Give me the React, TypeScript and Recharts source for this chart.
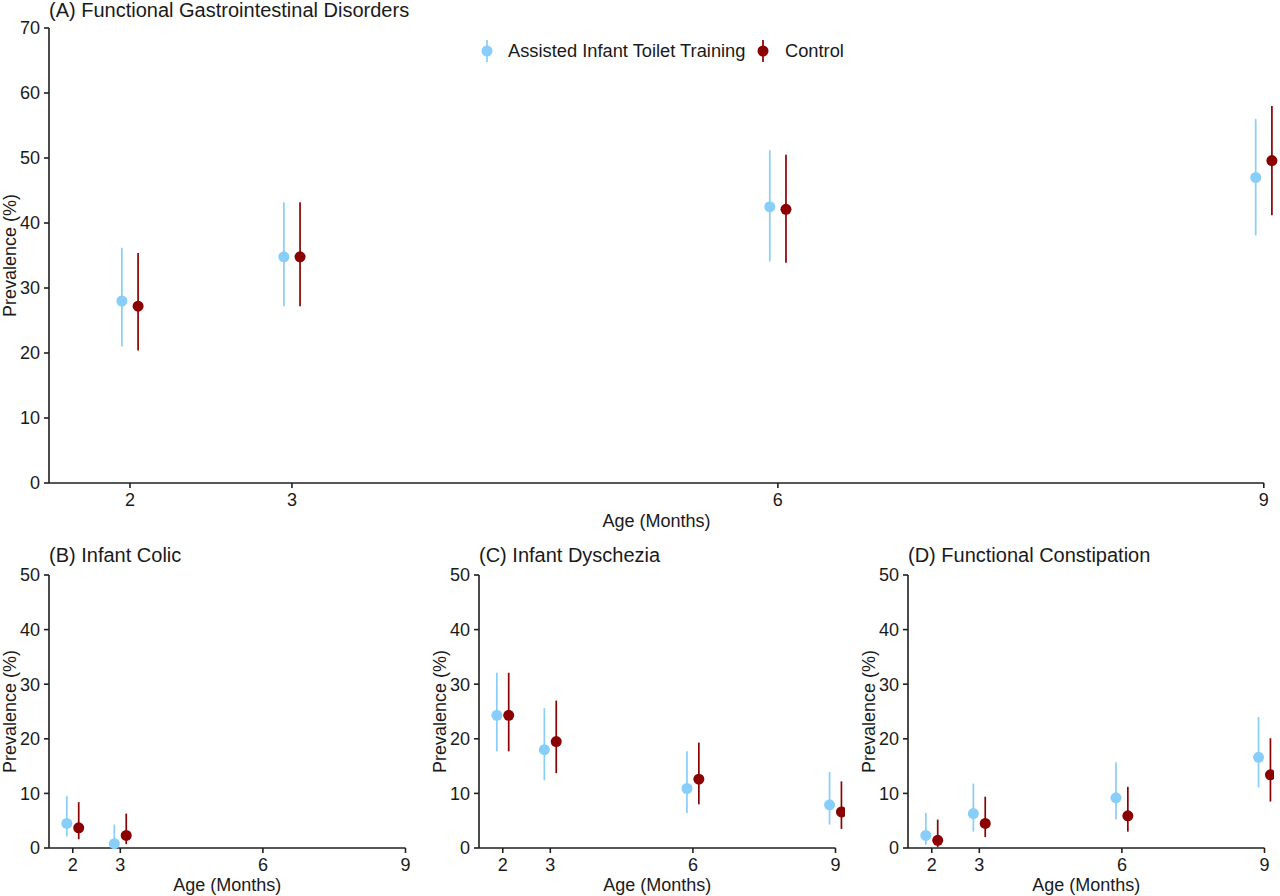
import React from 'react';
import { ScatterChart, Scatter, XAxis, YAxis, ErrorBar, ReferenceLine } from 'recharts';

// ---------- data ----------
const MONTHS = [2, 3, 6, 9];
const COLIC_MONTHS = [2, 3];
const X_TICKS = [2, 3, 6, 9];
const Y_TICKS_TOP = [0, 10, 20, 30, 40, 50, 60, 70];
const Y_TICKS_BOTTOM = [0, 10, 20, 30, 40, 50];

const SERIES_NAMES = ['Assisted Infant Toilet Training', 'Control'];

// (A) Functional Gastrointestinal Disorders
const fgidAitt = [28.0, 34.8, 42.5, 47.0];
const fgidAittLo = [21.0, 27.2, 34.1, 38.1];
const fgidAittHi = [36.2, 43.2, 51.2, 56.0];
const fgidCtrl = [27.2, 34.8, 42.1, 49.6];
const fgidCtrlLo = [20.4, 27.2, 33.9, 41.2];
const fgidCtrlHi = [35.4, 43.2, 50.5, 58.0];

// (B) Infant Colic
const colicAitt = [4.5, 0.8];
const colicAittLo = [2.1, 0.1];
const colicAittHi = [9.5, 4.3];
const colicCtrl = [3.7, 2.3];
const colicCtrlLo = [1.6, 0.7];
const colicCtrlHi = [8.4, 6.3];

// (C) Infant Dyschezia
const dysAitt = [24.3, 18.0, 10.9, 7.9];
const dysAittLo = [17.7, 12.4, 6.4, 4.3];
const dysAittHi = [32.1, 25.6, 17.7, 13.9];
const dysCtrl = [24.3, 19.5, 12.6, 6.6];
const dysCtrlLo = [17.7, 13.7, 8.0, 3.5];
const dysCtrlHi = [32.1, 27.0, 19.3, 12.2];

// (D) Functional Constipation
const fcAitt = [2.3, 6.3, 9.2, 16.6];
const fcAittLo = [0.6, 3.0, 5.2, 11.1];
const fcAittHi = [6.4, 11.8, 15.7, 24.0];
const fcCtrl = [1.4, 4.5, 5.9, 13.4];
const fcCtrlLo = [0.2, 2.0, 3.0, 8.5];
const fcCtrlHi = [5.2, 9.4, 11.2, 20.1];

// ---------- style ----------
const BLUE = '#87CEFA';
const RED = '#8B0000';
const AXIS = '#1f1f1f';
const TEXT = '#1a1a1a';
const FONT = '"Liberation Sans", Arial, Helvetica, sans-serif';

type Pt = { x: number; y: number; err: [number, number] };

function build(months: number[], est: number[], lo: number[], hi: number[], shift: number): Pt[] {
  return months.map((m, i) => ({
    x: m + shift,
    y: est[i],
    err: [est[i] - lo[i], hi[i] - est[i]] as [number, number],
  }));
}

const dot = (color: string) => (p: any) =>
  p.cx == null || p.cy == null ? <g /> : <circle cx={p.cx} cy={p.cy} r={5.5} fill={color} />;

const X_START = 1.5;
const X_LAST = 9;

function yTitle(props: any) {
  const vb = props.viewBox || {};
  const cx = (vb.x || 0) + 10;
  const cy = (vb.y || 0) + (vb.height || 0) / 2;
  return (
    <text
      x={cx}
      y={cy}
      transform={`rotate(-90 ${cx} ${cy})`}
      textAnchor="middle"
      dominantBaseline="central"
      fontSize={18}
      fontFamily={FONT}
      fill={TEXT}
    >
      Prevalence (%)
    </text>
  );
}

const xTitle = (xEnd: number, baselineOffset: number) => (props: any) => {
  const vb = props.viewBox || {};
  const frac = (X_LAST - X_START) / (xEnd - X_START);
  const cx = (vb.x || 0) + ((vb.width || 0) * frac) / 2;
  const y = (vb.y || 0) + baselineOffset;
  return (
    <text x={cx} y={y} textAnchor="middle" fontSize={18} fontFamily={FONT} fill={TEXT}>
      Age (Months)
    </text>
  );
};

type PanelProps = {
  left: number;
  top: number;
  width: number;
  height: number;
  marginTop: number;
  xAxisHeight: number;
  xEnd: number;
  yMax: number;
  yTicks: number[];
  aitt: Pt[];
  ctrl: Pt[];
  xLabelBaseline: number;
};

function Panel(p: PanelProps) {
  const tickStyle = { fontSize: 18, fontFamily: FONT, fill: TEXT };
  return (
    <div style={{ position: 'absolute', left: p.left, top: p.top }}>
      <ScatterChart
        width={p.width}
        height={p.height}
        margin={{ top: p.marginTop, right: 0, bottom: 0, left: 0 }}
      >
        <XAxis
          type="number"
          dataKey="x"
          domain={[X_START, p.xEnd]}
          ticks={X_TICKS}
          interval={0}
          axisLine={false}
          tickLine={{ stroke: AXIS, strokeWidth: 1.6 }}
          tickSize={5}
          tickMargin={5}
          tick={tickStyle}
          height={p.xAxisHeight}
          label={{ content: xTitle(p.xEnd, p.xLabelBaseline) } as any}
        />
        <YAxis
          type="number"
          dataKey="y"
          domain={[0, p.yMax]}
          ticks={p.yTicks}
          interval={0}
          width={49}
          axisLine={{ stroke: AXIS, strokeWidth: 1.6 }}
          tickLine={{ stroke: AXIS, strokeWidth: 1.6 }}
          tickSize={5}
          tickMargin={4}
          tick={tickStyle}
          label={{ content: yTitle } as any}
        />
        <ReferenceLine
          segment={[
            { x: X_START, y: 0 },
            { x: X_LAST, y: 0 },
          ]}
          stroke={AXIS}
          strokeWidth={1.6}
          ifOverflow="visible"
        />
        <Scatter
          name={SERIES_NAMES[0]}
          data={p.aitt}
          fill={BLUE}
          shape={dot(BLUE)}
          isAnimationActive={false}
        >
          <ErrorBar dataKey="err" direction="y" width={0} stroke={BLUE} strokeWidth={1.7} isAnimationActive={false} />
        </Scatter>
        <Scatter
          name={SERIES_NAMES[1]}
          data={p.ctrl}
          fill={RED}
          shape={dot(RED)}
          isAnimationActive={false}
        >
          <ErrorBar dataKey="err" direction="y" width={0} stroke={RED} strokeWidth={1.7} isAnimationActive={false} />
        </Scatter>
      </ScatterChart>
    </div>
  );
}

function Title({ left, top, text }: { left: number; top: number; text: string }) {
  return (
    <div
      style={{
        position: 'absolute',
        left,
        top,
        fontSize: 20,
        lineHeight: '20px',
        fontFamily: FONT,
        color: TEXT,
        whiteSpace: 'nowrap',
      }}
    >
      {text}
    </div>
  );
}

function LegendGlyph({ left, color }: { left: number; color: string }) {
  return (
    <svg style={{ position: 'absolute', left, top: 40 }} width={14} height={22}>
      <line x1={7} x2={7} y1={0} y2={22} stroke={color} strokeWidth={1.7} />
      <circle cx={7} cy={11} r={5.5} fill={color} />
    </svg>
  );
}

function LegendText({ left, text }: { left: number; text: string }) {
  return (
    <div
      style={{
        position: 'absolute',
        left,
        top: 42,
        fontSize: 18.3,
        lineHeight: '18px',
        fontFamily: FONT,
        color: TEXT,
        whiteSpace: 'nowrap',
      }}
    >
      {text}
    </div>
  );
}

const TOP_DODGE = 0.05;
const BOTTOM_DODGE = 0.125;

export default function App() {
  const aA = build(MONTHS, fgidAitt, fgidAittLo, fgidAittHi, -TOP_DODGE);
  const aC = build(MONTHS, fgidCtrl, fgidCtrlLo, fgidCtrlHi, TOP_DODGE);
  const bA = build(COLIC_MONTHS, colicAitt, colicAittLo, colicAittHi, -BOTTOM_DODGE);
  const bC = build(COLIC_MONTHS, colicCtrl, colicCtrlLo, colicCtrlHi, BOTTOM_DODGE);
  const cA = build(MONTHS, dysAitt, dysAittLo, dysAittHi, -BOTTOM_DODGE);
  const cC = build(MONTHS, dysCtrl, dysCtrlLo, dysCtrlHi, BOTTOM_DODGE);
  const dA = build(MONTHS, fcAitt, fcAittLo, fcAittHi, -BOTTOM_DODGE);
  const dC = build(MONTHS, fcCtrl, fcCtrlLo, fcCtrlHi, BOTTOM_DODGE);

  const bottom = {
    top: 560,
    width: 415,
    height: 336,
    marginTop: 15,
    xAxisHeight: 48,
    xEnd: 9.2,
    yMax: 50,
    yTicks: Y_TICKS_BOTTOM,
    xLabelBaseline: 43,
  };

  return (
    <div
      style={{
        position: 'absolute',
        left: 0,
        top: 0,
        width: 1280,
        height: 896,
        overflow: 'hidden',
        background: '#fff',
        fontFamily: FONT,
      }}
    >
      <Panel
        left={0}
        top={0}
        width={1280}
        height={540}
        marginTop={28}
        xAxisHeight={57}
        xEnd={9.1}
        yMax={70}
        yTicks={Y_TICKS_TOP}
        aitt={aA}
        ctrl={aC}
        xLabelBaseline={44}
      />
      <Panel left={0} {...bottom} aitt={bA} ctrl={bC} />
      <Panel left={430} {...bottom} aitt={cA} ctrl={cC} />
      <Panel left={859} {...bottom} aitt={dA} ctrl={dC} />

      <Title left={49} top={0} text="(A) Functional Gastrointestinal Disorders" />
      <Title left={49} top={545} text="(B) Infant Colic" />
      <Title left={479} top={545} text="(C) Infant Dyschezia" />
      <Title left={908} top={545} text="(D) Functional Constipation" />

      <LegendGlyph left={480} color={BLUE} />
      <LegendText left={508} text={SERIES_NAMES[0]} />
      <LegendGlyph left={756} color={RED} />
      <LegendText left={785} text={SERIES_NAMES[1]} />
    </div>
  );
}
